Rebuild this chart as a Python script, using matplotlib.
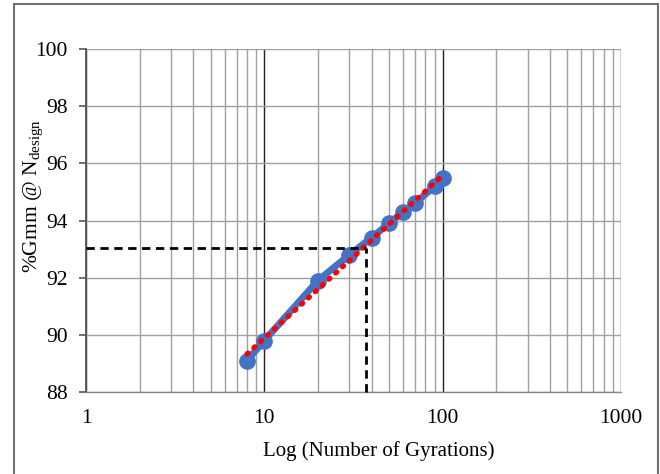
import numpy as np
import matplotlib
matplotlib.use("Agg")
import matplotlib.pyplot as plt
from matplotlib.patches import Rectangle
from matplotlib.ticker import FixedLocator, NullFormatter, LogLocator

plt.rcParams['font.family'] = ['Liberation Serif', 'DejaVu Serif']
plt.rcParams['mathtext.fontset'] = 'custom'
plt.rcParams['mathtext.rm'] = 'Liberation Serif'
plt.rcParams['mathtext.it'] = 'Liberation Serif:italic'

gyrations = [8, 10, 20, 30, 40, 50, 60, 70, 90, 100]
gmm = [89.1, 89.8, 91.9, 92.8, 93.4, 93.9, 94.3, 94.6, 95.2, 95.5]
n_design = 37
gmm_design = 93.05
x_ticks = [1, 10, 100, 1000]
y_ticks = [88, 90, 92, 94, 96, 98, 100]

fig = plt.figure(figsize=(6.6, 4.74), dpi=100)
ax = fig.add_axes([0.1303, 0.173, 0.8106, 0.7236])

ax.set_xscale('log')
ax.set_xlim(1, 1000)
ax.set_ylim(88, 100)

# grid
ax.xaxis.set_major_locator(FixedLocator(x_ticks))
ax.xaxis.set_minor_locator(LogLocator(base=10, subs=np.arange(2, 10)))
ax.xaxis.set_minor_formatter(NullFormatter())
ax.set_xticks(x_ticks)
ax.set_xticklabels([str(t) for t in x_ticks])
ax.set_yticks(y_ticks)
ax.set_yticklabels([str(t) for t in y_ticks])
ax.grid(True, which='major', axis='x', color='#222222', lw=1.0)
ax.grid(True, which='minor', axis='x', color='#a0a0a0', lw=1.0)
ax.grid(True, which='major', axis='y', color='#a0a0a0', lw=1.0)
ax.set_axisbelow(True)

for s in ['top', 'right']:
    ax.spines[s].set_visible(False)
ax.spines['left'].set_color('#555555')
ax.spines['left'].set_linewidth(1.3)
ax.spines['bottom'].set_color('#888888')
ax.spines['bottom'].set_linewidth(1.0)

ax.tick_params(axis='y', which='major', length=5, width=1.2, color='#555555',
               direction='out', labelsize=15.5, pad=8)
ax.tick_params(axis='x', which='both', length=0, labelsize=15.5, pad=12)

# data line
ax.plot(gyrations, gmm, color='#4472C4', lw=5, marker='o', ms=11,
        solid_capstyle='round', zorder=3)

# logarithmic trendline
coef = np.polyfit(np.log(gyrations), gmm, 1)
xt = np.logspace(np.log10(gyrations[0]), np.log10(gyrations[-1]), 100)
ax.plot(xt, coef[0] * np.log(xt) + coef[1], color='#FF0000', lw=3.8,
        ls=(0, (0.25, 1.5)), dash_capstyle='round', zorder=4)

# design lines
ax.plot([1, n_design], [gmm_design, gmm_design], color='black', lw=2,
        ls=(0, (3, 2)), zorder=5, clip_on=False)
ax.plot([n_design, n_design], [88, gmm_design], color='black', lw=2,
        ls=(0, (3, 2)), zorder=5, clip_on=False)

ax.set_xlabel('Log (Number of Gyrations)', fontsize=15)
ax.xaxis.set_label_coords(0.548, -0.143)
ax.set_ylabel(r'%Gmm @ N$_{\mathrm{design}}$', fontsize=15.5)
ax.yaxis.set_label_coords(-0.077, 0.571)

# outer border
fig.patches.append(Rectangle((14 / 660, -0.01), (658 - 14) / 660, (474 - 4) / 474 + 0.01,
                             transform=fig.transFigure, fill=False,
                             edgecolor='#707070', lw=1.5))

fig.savefig('out.png', dpi=100)
